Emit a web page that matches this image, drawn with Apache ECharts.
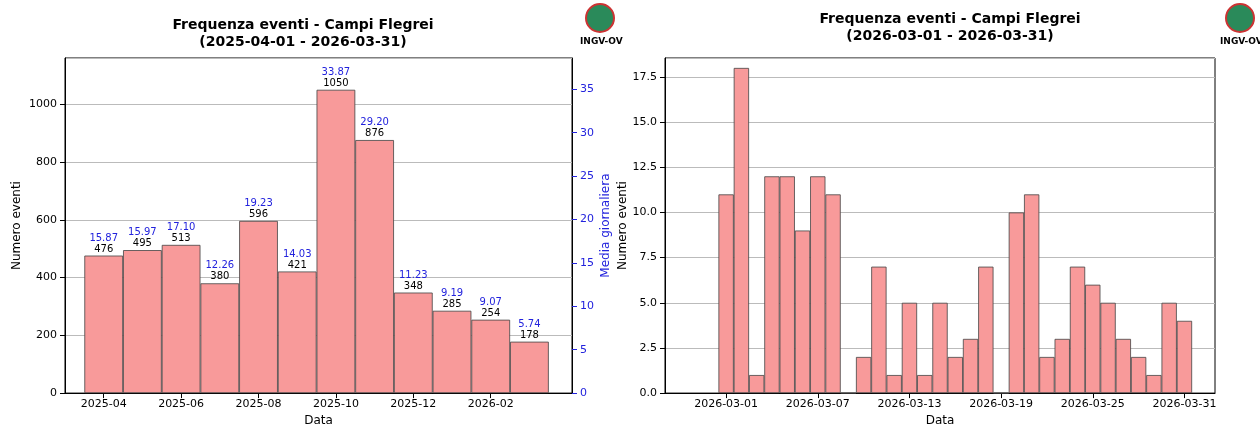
<!DOCTYPE html>
<html>
<head>
<meta charset="utf-8">
<script src="https://cdn.jsdelivr.net/npm/echarts@6/dist/echarts.min.js"></script>
<style>html,body{margin:0;padding:0;background:#fff}#chart{width:1260px;height:432px}</style>
</head>
<body>
<div id="chart"></div>
<script>
// monthly chart
var months = ['2025-04', '2025-05', '2025-06', '2025-07', '2025-08', '2025-09', '2025-10', '2025-11', '2025-12', '2026-01', '2026-02', '2026-03'];
var monthCounts = [476, 495, 513, 380, 596, 421, 1050, 876, 348, 285, 254, 178];
var monthMeans = ['15.87', '15.97', '17.10', '12.26', '19.23', '14.03', '33.87', '29.20', '11.23', '9.19', '9.07', '5.74'];
// daily chart, March 2026
var dayTicks = ['2026-03-01', '2026-03-07', '2026-03-13', '2026-03-19', '2026-03-25', '2026-03-31'];
var dayCounts = [11, 18, 1, 12, 12, 9, 12, 11, 0, 2, 7, 1, 5, 1, 5, 2, 3, 7, 0, 10, 11, 2, 3, 7, 6, 5, 3, 2, 1, 5, 4];

var myChart = echarts.init(document.getElementById('chart'));
var font = 'DejaVu Sans';
var barStyle = {color: '#f89a9a', borderColor: '#444', borderWidth: 0.8};
var blk = {show: true, onZero: false, lineStyle: {color: '#000'}};

function logo(x) {
    return [
        {type: 'circle', shape: {cx: x, cy: 18, r: 14}, style: {fill: '#2a8a5a', stroke: '#c33', lineWidth: 2}},
        {type: 'text', x: x - 20, y: 37, style: {text: 'INGV-OV', font: 'bold 9px DejaVu Sans', fill: '#000'}}
    ];
}

option = {
    textStyle: {fontFamily: font},
    title: [
        {text: 'Frequenza eventi - Campi Flegrei\n(2025-04-01 - 2026-03-31)', left: 298, top: 12, textAlign: 'center',
         textStyle: {fontSize: 14, fontWeight: 'bold', lineHeight: 17, color: '#000'}},
        {text: 'Frequenza eventi - Campi Flegrei\n(2026-03-01 - 2026-03-31)', left: 945, top: 6, textAlign: 'center',
         textStyle: {fontSize: 14, fontWeight: 'bold', lineHeight: 17, color: '#000'}}
    ],
    graphic: logo(600).concat(logo(1240)),
    grid: [
        {left: 65, right: 688, top: 58, bottom: 37, show: true, borderColor: '#000', borderWidth: 1},
        {left: 665, right: 45, top: 58, bottom: 37, show: true, borderColor: '#000', borderWidth: 1}
    ],
    xAxis: [
        {type: 'value', gridIndex: 0, min: -1.0, max: 12.1, name: 'Data', nameLocation: 'middle', nameGap: 20,
         nameTextStyle: {fontSize: 12, color: '#000'}, splitLine: {show: false},
         axisLine: blk, axisTick: {show: true, customValues: [0, 2, 4, 6, 8, 10], lineStyle: {color: '#000'}},
         axisLabel: {customValues: [0, 2, 4, 6, 8, 10], fontSize: 11, color: '#000', margin: 6,
                     formatter: function (v) { return months[Math.round(v)]; }}},
        {type: 'value', gridIndex: 1, min: -4, max: 32, name: 'Data', nameLocation: 'middle', nameGap: 20,
         nameTextStyle: {fontSize: 12, color: '#000'}, splitLine: {show: false},
         axisLine: blk, axisTick: {show: true, customValues: [0, 6, 12, 18, 24, 30], lineStyle: {color: '#000'}},
         axisLabel: {customValues: [0, 6, 12, 18, 24, 30], fontSize: 11, color: '#000', margin: 6,
                     formatter: function (v) { return dayTicks[Math.round(v / 6)]; }}}
    ],
    yAxis: [
        {type: 'value', gridIndex: 0, min: 0, max: 1160, interval: 200, name: 'Numero eventi', nameLocation: 'middle', nameGap: 42,
         nameTextStyle: {fontSize: 12, color: '#000'}, axisLine: blk, axisTick: {show: true, lineStyle: {color: '#000'}},
         axisLabel: {fontSize: 11, color: '#000', showMaxLabel: false, formatter: function (v) { return String(v); }},
         splitLine: {lineStyle: {color: '#bbb'}}},
        {type: 'value', gridIndex: 0, position: 'right', min: 0, max: 38.6, interval: 5, name: 'Media giornaliera', nameLocation: 'middle', nameGap: 28,
         nameTextStyle: {fontSize: 12, color: '#2222dd'}, axisLine: blk, axisTick: {show: true, lineStyle: {color: '#2222dd'}},
         axisLabel: {fontSize: 11, color: '#2222dd', showMaxLabel: false}, splitLine: {show: false}},
        {type: 'value', gridIndex: 1, min: 0, max: 18.55, interval: 2.5, name: 'Numero eventi', nameLocation: 'middle', nameGap: 36,
         nameTextStyle: {fontSize: 12, color: '#000'}, axisLine: blk, axisTick: {show: true, lineStyle: {color: '#000'}},
         axisLabel: {fontSize: 11, color: '#000', showMaxLabel: false, formatter: function (v) { return v.toFixed(1); }},
         splitLine: {lineStyle: {color: '#bbb'}}}
    ],
    series: [
        {type: 'bar', xAxisIndex: 0, yAxisIndex: 0, barWidth: 38.7, itemStyle: barStyle,
         data: monthCounts.map(function (v, i) { return [i, v]; }),
         label: {show: true, position: 'top', distance: 1, fontSize: 10, lineHeight: 11,
                 formatter: function (p) { return '{m|' + monthMeans[p.dataIndex] + '}\n{c|' + p.value[1] + '}'; },
                 rich: {m: {color: '#2222dd', fontSize: 10}, c: {color: '#000', fontSize: 10}}}},
        {type: 'bar', xAxisIndex: 1, yAxisIndex: 2, barWidth: 15.3, itemStyle: barStyle,
         data: dayCounts.map(function (v, i) { return [i, v]; })}
    ]
};
myChart.setOption(option);
</script>
</body>
</html>
